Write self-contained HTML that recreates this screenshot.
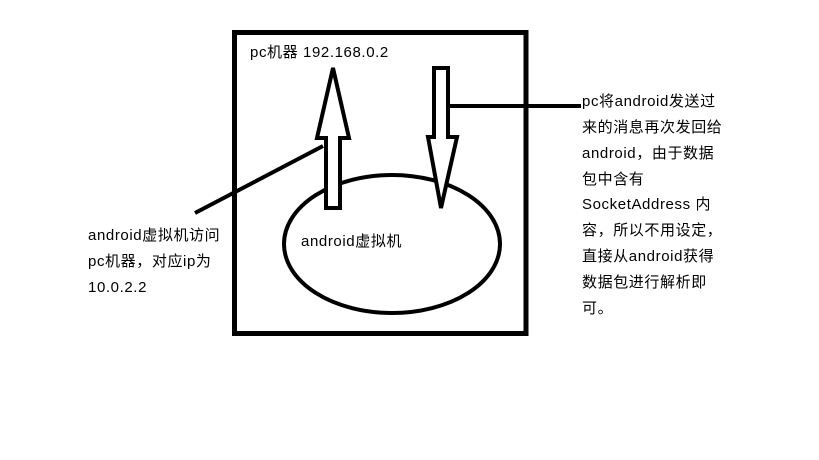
<!DOCTYPE html>
<html><head><meta charset="utf-8"><style>
html,body{margin:0;padding:0;background:#fff;}
svg{display:block;}
text{font-family:"Liberation Sans","Noto Sans CJK SC",sans-serif;font-size:15px;fill:#000;letter-spacing:0.6px;}
</style></head><body>
<svg width="819" height="460" viewBox="0 0 819 460" xmlns="http://www.w3.org/2000/svg">
<rect x="234.5" y="32.5" width="291.5" height="301" fill="none" stroke="#000" stroke-width="5"/>
<ellipse cx="392" cy="244" rx="108" ry="69" fill="none" stroke="#000" stroke-width="4"/>
<line x1="195" y1="213" x2="323" y2="146" stroke="#000" stroke-width="4"/>
<polygon points="333,68 349,138 340,138 340,208 326,208 326,138 317,138" fill="#fff" stroke="#000" stroke-width="4" stroke-linejoin="miter"/>
<polygon points="434,68 448,68 448,137 457,137 441,208 428,137 434,137" fill="#fff" stroke="#000" stroke-width="4"/>
<line x1="450" y1="106" x2="581" y2="106" stroke="#000" stroke-width="4"/>
<text x="250" y="57">pc机器 192.168.0.2</text>
<text x="301" y="246">android虚拟机</text>
<text x="88" y="240">android虚拟机访问</text>
<text x="88" y="266">pc机器，对应ip为</text>
<text x="88" y="292">10.0.2.2</text>
<text x="582" y="106">pc将android发送过</text>
<text x="582" y="132">来的消息再次发回给</text>
<text x="582" y="158">android，由于数据</text>
<text x="582" y="184">包中含有</text>
<text x="582" y="209">SocketAddress 内</text>
<text x="582" y="235">容，所以不用设定，</text>
<text x="582" y="261">直接从android获得</text>
<text x="582" y="287">数据包进行解析即</text>
<text x="582" y="313">可。</text>
</svg>
</body></html>
